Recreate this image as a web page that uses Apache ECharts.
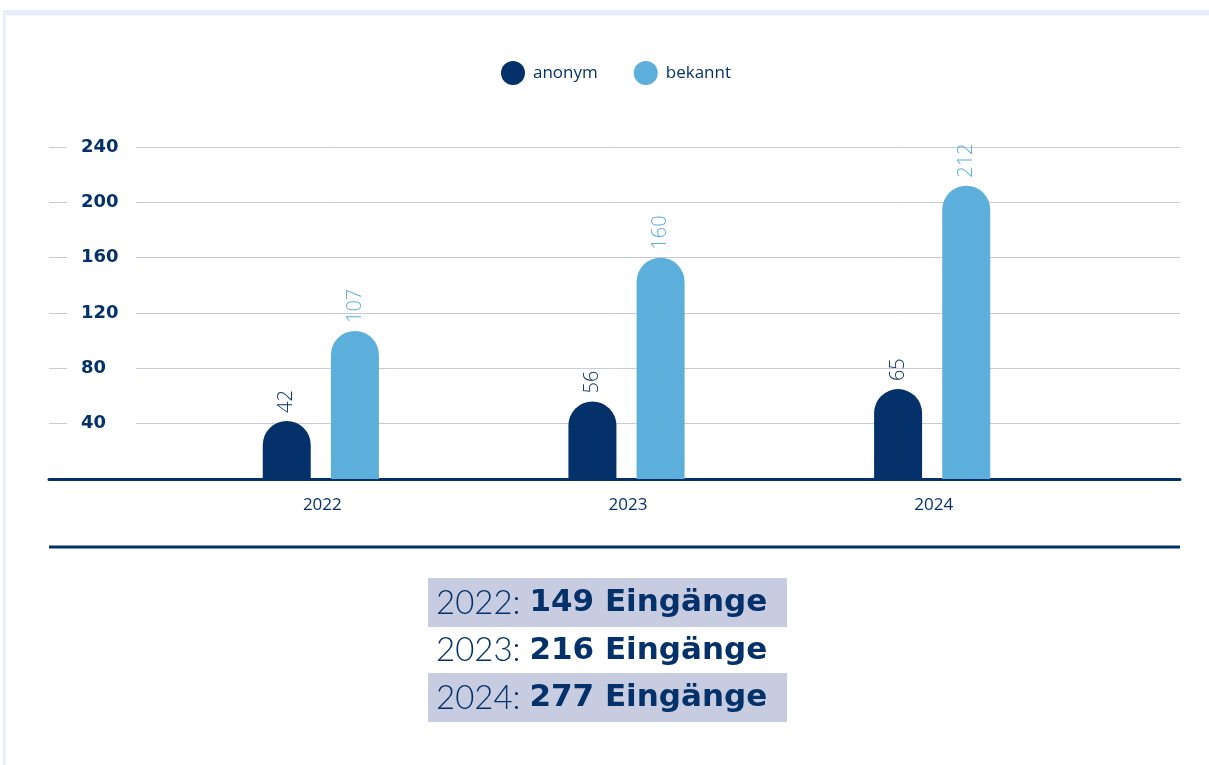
<!DOCTYPE html>
<html>
<head>
<meta charset="utf-8">
<script src="https://cdn.jsdelivr.net/npm/echarts@6/dist/echarts.min.js"></script>
<style>
html,body{margin:0;padding:0;background:#fff;}
#c{width:1209px;height:765px;}
</style>
</head>
<body>
<div id="c"></div>
<script>
const years = ['2022', '2023', '2024'];
const anonym = [42, 56, 65];
const bekannt = [107, 160, 212];
const yTicks = [0, 40, 80, 120, 160, 200, 240];
const totalSuffix = 'Eingänge';

const NAVY = '#04316a';
const LIGHT = '#5caedb';
const GRID = '#c6cadf';

const chart = echarts.init(document.getElementById('c'));

const boxes = [];
years.forEach((y, i) => {
  const total = anonym[i] + bekannt[i];
  const top = 578 + i * 47.5;
  if (i !== 1) {
    boxes.push({type: 'rect', shape: {x: 428, y: top, width: 359, height: 49}, style: {fill: '#c7cce1'}, silent: true});
  }
  boxes.push({
    type: 'text', x: 436, y: top + 25,
    style: {
      rich: {
        l: {fontFamily: 'Lato', fontWeight: 300, fontSize: 33, fill: NAVY},
        b: {fontFamily: 'DejaVu Sans', fontWeight: 'bold', fontSize: 31, fill: NAVY}
      },
      text: '{l|' + y + ': }{b|' + total + ' ' + totalSuffix + '}',
      verticalAlign: 'middle', align: 'left'
    }
  });
});

chart.setOption({
  animation: false,
  legend: {
    data: ['anonym', 'bekannt'],
    left: 496, top: 56,
    icon: 'circle', itemWidth: 24, itemHeight: 24, itemGap: 36,
    textStyle: {fontFamily: 'Open Sans', fontSize: 17, color: NAVY, padding: [0, 0, 0, 3]}
  },
  grid: [
    {left: 49, right: 29, top: 147, bottom: 286},
    {left: 168, right: 124, top: 147, bottom: 286}
  ],
  xAxis: [
    {gridIndex: 0, type: 'value', min: 0, max: 1, show: true,
     axisLine: {show: true, onZero: false, lineStyle: {color: NAVY, width: 3}},
     axisTick: {show: false}, axisLabel: {show: false}, splitLine: {show: false}},
    {gridIndex: 1, type: 'category', data: years,
     axisLine: {show: false}, axisTick: {show: false},
     axisLabel: {margin: 18, fontFamily: 'Open Sans', fontSize: 17, color: NAVY, padding: [0, 0, 0, 3]}}
  ],
  yAxis: [
    {gridIndex: 0, type: 'value', min: yTicks[0], max: yTicks[yTicks.length - 1], interval: 40,
     axisLine: {show: false}, axisTick: {show: false},
     splitLine: {lineStyle: {color: GRID, width: 1}},
     axisLabel: {inside: true, margin: 18, showMinLabel: false, align: 'left',
       backgroundColor: '#fff', padding: [2, 0, 2, 14], width: 55,
       fontFamily: 'DejaVu Sans', fontWeight: 'bold', fontSize: 18, color: NAVY}},
    {gridIndex: 1, type: 'value', min: yTicks[0], max: yTicks[yTicks.length - 1], interval: 40, show: false}
  ],
  series: [
    {name: 'anonym', type: 'bar', xAxisIndex: 1, yAxisIndex: 1, data: anonym,
     barWidth: 48, barGap: '42%', itemStyle: {color: NAVY, borderRadius: [24, 24, 0, 0]},
     label: {show: true, position: 'top', rotate: 90, align: 'left', verticalAlign: 'middle', distance: 8,
       fontFamily: 'Open Sans', fontWeight: 300, fontSize: 20, color: NAVY}},
    {name: 'bekannt', type: 'bar', xAxisIndex: 1, yAxisIndex: 1, data: bekannt,
     barWidth: 48, barGap: '42%', itemStyle: {color: LIGHT, borderRadius: [24, 24, 0, 0]},
     label: {show: true, position: 'top', rotate: 90, align: 'left', verticalAlign: 'middle', distance: 8,
       fontFamily: 'Open Sans', fontWeight: 300, fontSize: 20, color: '#5caedb'}}
  ],
  graphic: [
    {type: 'rect', shape: {x: 3, y: 10, width: 1210, height: 5.5}, style: {fill: '#e7eefa'}, silent: true},
    {type: 'rect', shape: {x: 3, y: 10, width: 2.7, height: 760}, style: {fill: '#e7eefa'}, silent: true},
    {type: 'rect', shape: {x: 49, y: 545.5, width: 1131, height: 3}, style: {fill: NAVY}, silent: true}
  ].concat(boxes)
});
</script>
</body>
</html>
